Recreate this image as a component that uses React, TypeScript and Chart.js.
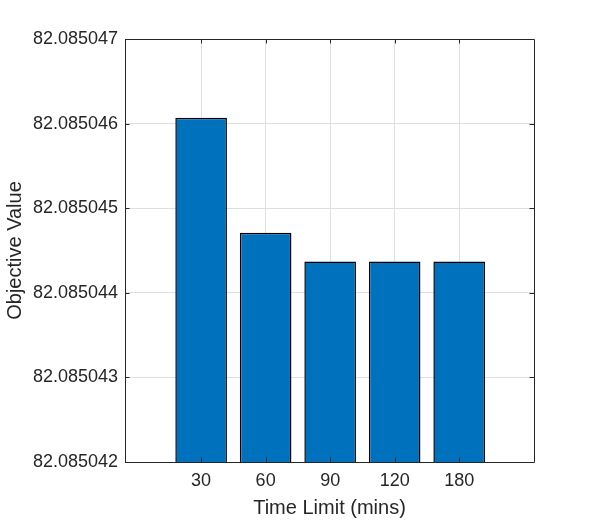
import React, { useEffect, useRef } from "react";
import { Chart, registerables } from "chart.js";

Chart.register(...registerables);

const categories = ["30", "60", "90", "120", "180"];
const objectiveValues = [82.08504607, 82.08504471, 82.08504437, 82.08504437, 82.08504437];
const yTickLabels = ["82.085042", "82.085043", "82.085044", "82.085045", "82.085046", "82.085047"];
const yTickValues = yTickLabels.map(Number);
const xTitle = "Time Limit (mins)";
const yTitle = "Objective Value";

const FONT = "'Liberation Sans', Arial, Helvetica, sans-serif";
const TEXT = "#262626";

const boxPlugin = {
  id: "matlabBox",
  afterDraw(chart: any) {
    const { ctx, chartArea } = chart;
    const { left, right, top, bottom } = chartArea;
    const xs = chart.scales.x;
    const ys = chart.scales.y;
    const tl = 4.5;
    ctx.save();
    ctx.strokeStyle = TEXT;
    ctx.lineWidth = 1;
    ctx.beginPath();
    ctx.rect(Math.round(left) + 0.5, Math.round(top) + 0.5, Math.round(right - left), Math.round(bottom - top));
    ctx.stroke();
    ctx.beginPath();
    xs.ticks.forEach((t: any) => {
      const px = Math.round(xs.getPixelForValue(t.value)) + 0.5;
      ctx.moveTo(px, bottom);
      ctx.lineTo(px, bottom - tl);
      ctx.moveTo(px, top);
      ctx.lineTo(px, top + tl);
    });
    ys.ticks.forEach((t: any) => {
      const py = Math.round(ys.getPixelForValue(t.value)) + 0.5;
      ctx.moveTo(left, py);
      ctx.lineTo(left + tl, py);
      ctx.moveTo(right, py);
      ctx.lineTo(right - tl, py);
    });
    ctx.stroke();
    ctx.restore();
  },
};

export default function App() {
  const canvasRef = useRef<HTMLCanvasElement | null>(null);

  useEffect(() => {
    const canvas = canvasRef.current;
    if (!canvas) return;
    const chart = new Chart(canvas, {
      type: "bar",
      data: {
        datasets: [
          {
            data: objectiveValues.map((v, i) => ({ x: i + 1, y: v })),
            backgroundColor: "#0072BD",
            borderColor: "#000000",
            borderWidth: 1.5,
            barPercentage: 0.8,
            categoryPercentage: 1,
          },
        ],
      },
      options: {
        responsive: false,
        animation: false,
        devicePixelRatio: 1,
        layout: { padding: { top: 39, right: 57, left: 0, bottom: 0 } },
        plugins: { legend: { display: false }, tooltip: { enabled: false } },
        scales: {
          x: {
            type: "linear",
            min: -0.18,
            max: 6.16,
            offset: false,
            grid: { color: "#dfdfdf", drawTicks: false, offset: false },
            border: { display: false },
            afterBuildTicks: (scale: any) => {
              scale.ticks = categories.map((_, i) => ({ value: i + 1 }));
            },
            afterFit: (scale: any) => {
              scale.height = 59;
            },
            ticks: {
              padding: 8,
              color: TEXT,
              font: { family: FONT, size: 18 },
              callback: (value: any) => categories[Number(value) - 1] ?? "",
              maxRotation: 0,
              autoSkip: false,
            },
            title: {
              display: true,
              text: xTitle,
              color: TEXT,
              font: { family: FONT, size: 20 },
              padding: { top: 0, bottom: 1 },
            },
          },
          y: {
            type: "linear",
            min: yTickValues[0],
            max: yTickValues[yTickValues.length - 1],
            grid: { color: "#dfdfdf", drawTicks: false },
            border: { display: false },
            afterBuildTicks: (scale: any) => {
              scale.ticks = yTickValues.map((v) => ({ value: v }));
            },
            afterFit: (scale: any) => {
              scale.width = 125;
            },
            ticks: {
              padding: 7,
              color: TEXT,
              font: { family: FONT, size: 18 },
              callback: (_v: any, index: number) => yTickLabels[index],
              autoSkip: false,
            },
            title: {
              display: true,
              text: yTitle,
              color: TEXT,
              font: { family: FONT, size: 20 },
              padding: { top: 3, bottom: 0 },
            },
          },
        },
      },
      plugins: [boxPlugin],
    });
    return () => chart.destroy();
  }, []);

  return (
    <div style={{ position: "absolute", left: 0, top: 0, width: 591, height: 521, background: "#fff" }}>
      <canvas ref={canvasRef} width={591} height={521} style={{ display: "block", width: 591, height: 521 }} />
    </div>
  );
}
